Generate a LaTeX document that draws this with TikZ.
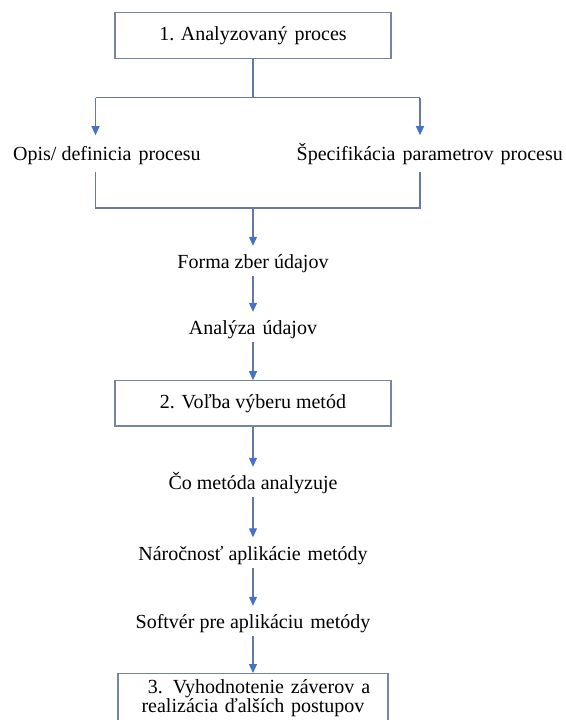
\documentclass[tikz,border=0pt]{standalone}
\usepackage{fontspec}
\setmainfont{Liberation Serif}
\usetikzlibrary{arrows.meta}
\definecolor{boxc}{RGB}{118,134,160}
\definecolor{linec}{RGB}{100,122,162}
\definecolor{headc}{RGB}{68,114,196}
\newcommand{\wsp}{\hspace{0.35em}}
\begin{document}
\begin{tikzpicture}[x=1pt,y=-1pt,
  font=\fontsize{20}{19}\selectfont,
  box/.style={draw=boxc, line width=1.2pt, minimum width=276pt, minimum height=46pt, inner sep=0pt},
  lbl/.style={inner xsep=0pt, inner ysep=5.5pt, text height=17pt, text depth=2pt},
  ln/.style={draw=linec, line width=1.1pt},
  arr/.style={ln, -{Triangle[length=9pt,width=8pt,color=headc]}}]
\useasboundingbox (0,0) rectangle (565,720);
% top box
\node[box] (b1) at (253,35.7) {1. Analyzovaný\wsp proces};
\coordinate (jt) at (253,97.7);
\coordinate (jl) at (95.5,97.7);
\coordinate (jr) at (420,97.7);
\node[lbl, anchor=west, inner ysep=8.5pt] (opis) at (13,153.4) {Opis/ definicia\wsp procesu};
\node[lbl, anchor=east, inner ysep=8.5pt] (spec) at (563,153.4) {Špecifikácia\wsp parametrov\wsp procesu};
\coordinate (jbl) at (95.5,208);
\coordinate (jbr) at (420,208);
\coordinate (jb) at (253,208);
\draw[ln] (b1.south) -- (jt);
\draw[ln] (jl) -- (jr);
\draw[arr] (jl) -- (jl |- opis.north);
\draw[arr] (jr) -- (jr |- spec.north);
\draw[ln] (jl |- opis.south) -- (jbl) -- (jbr) -- (jr |- spec.south);
% middle chain
\node[lbl] (forma) at (253,261) {Forma zber údajov};
\node[lbl] (analyza) at (253,327) {Analýza\wsp údajov};
\node[box, minimum height=45.3pt] (b2) at (253,403.4) {2. Voľba výberu metód};
\node[lbl] (co) at (253,482) {Čo metóda analyzuje};
\node[lbl] (nar) at (253,552.5) {Náročnosť aplikácie\wsp metódy};
\node[lbl] (soft) at (253,621) {Softvér pre aplikáciu\wsp metódy};
\node[draw=boxc, line width=1.2pt, anchor=north, text width=266pt, inner xsep=2pt, inner ysep=6pt,
      align=center, text height=14pt, text depth=60pt] (b3) at (253,673)
      {\hspace*{12pt}3. Vyhodnotenie\wsp záverov\wsp a\\ realizácia ďalších postupov};
\draw[arr] (jb) -- (forma.north);
\draw[arr] (forma) -- (analyza);
\draw[arr] (analyza) -- (b2);
\draw[arr] (b2) -- (co);
\draw[arr] (co) -- (nar);
\draw[arr] (nar) -- (soft);
\draw[arr] (soft) -- (b3);
\end{tikzpicture}
\end{document}
